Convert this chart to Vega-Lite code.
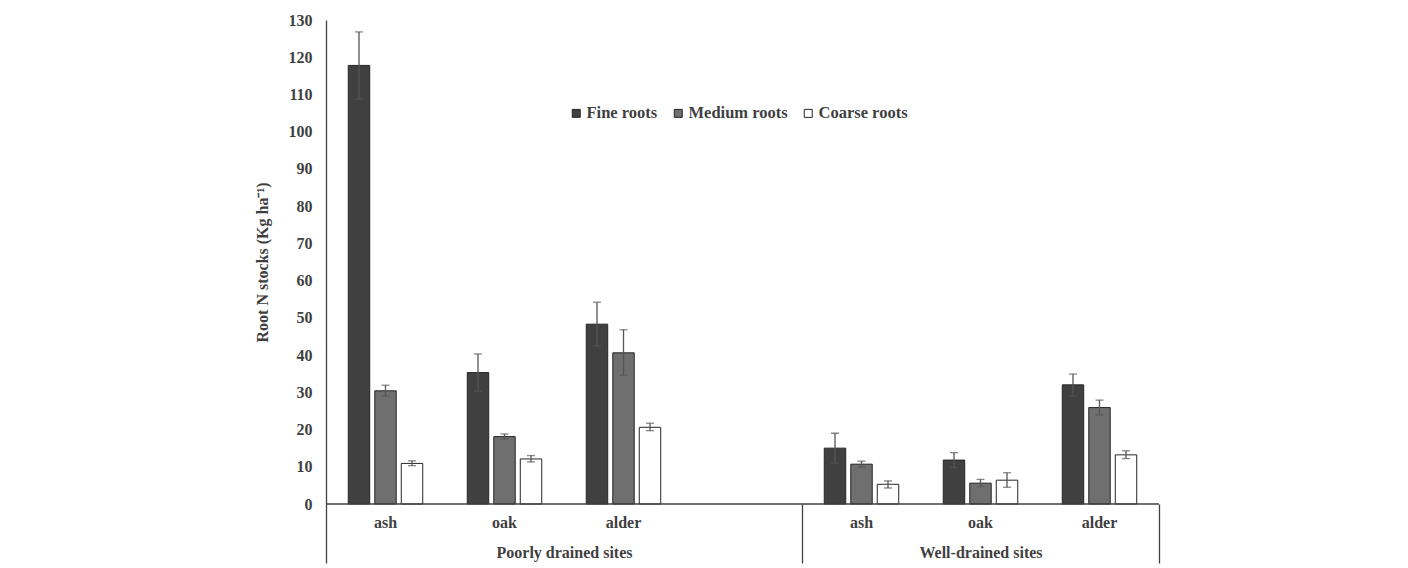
{
  "$schema": "https://vega.github.io/schema/vega-lite/v6.json",
  "width": 833,
  "height": 484,
  "autosize": {"type": "none"},
  "padding": {"left": 326, "top": 20, "right": 249, "bottom": 64},
  "background": "white",
  "config": {
    "view": {"stroke": null},
    "font": "Liberation Serif",
    "axisY": {"ticks": false, "grid": false, "domainColor": "#404040", "domainWidth": 1.3, "labelFontSize": 16, "labelFontWeight": "bold", "labelColor": "#3f3f3f", "labelPadding": 14, "labelFlush": false, "labelOverlap": false, "titleFontSize": 16, "titleFontWeight": "bold", "titleColor": "#3f3f3f", "titlePadding": 18}
  },
  "datasets": {
    "roots": [
      {"site": "Poorly drained sites", "species": "ash", "slot": "P-ash", "type": "Fine roots", "value": 117.8, "lo": 108.8, "hi": 126.8},
      {"site": "Poorly drained sites", "species": "ash", "slot": "P-ash", "type": "Medium roots", "value": 30.4, "lo": 29.0, "hi": 31.9},
      {"site": "Poorly drained sites", "species": "ash", "slot": "P-ash", "type": "Coarse roots", "value": 10.9, "lo": 10.3, "hi": 11.6},
      {"site": "Poorly drained sites", "species": "oak", "slot": "P-oak", "type": "Fine roots", "value": 35.3, "lo": 30.3, "hi": 40.3},
      {"site": "Poorly drained sites", "species": "oak", "slot": "P-oak", "type": "Medium roots", "value": 18.1, "lo": 17.4, "hi": 18.8},
      {"site": "Poorly drained sites", "species": "oak", "slot": "P-oak", "type": "Coarse roots", "value": 12.1, "lo": 11.3, "hi": 13.0},
      {"site": "Poorly drained sites", "species": "alder", "slot": "P-alder", "type": "Fine roots", "value": 48.3, "lo": 42.4, "hi": 54.2},
      {"site": "Poorly drained sites", "species": "alder", "slot": "P-alder", "type": "Medium roots", "value": 40.6, "lo": 34.6, "hi": 46.8},
      {"site": "Poorly drained sites", "species": "alder", "slot": "P-alder", "type": "Coarse roots", "value": 20.6, "lo": 19.7, "hi": 21.7},
      {"site": "Well-drained sites", "species": "ash", "slot": "W-ash", "type": "Fine roots", "value": 15.0, "lo": 11.0, "hi": 19.0},
      {"site": "Well-drained sites", "species": "ash", "slot": "W-ash", "type": "Medium roots", "value": 10.7, "lo": 9.9, "hi": 11.5},
      {"site": "Well-drained sites", "species": "ash", "slot": "W-ash", "type": "Coarse roots", "value": 5.3, "lo": 4.3, "hi": 6.2},
      {"site": "Well-drained sites", "species": "oak", "slot": "W-oak", "type": "Fine roots", "value": 11.8, "lo": 9.8, "hi": 13.8},
      {"site": "Well-drained sites", "species": "oak", "slot": "W-oak", "type": "Medium roots", "value": 5.6, "lo": 4.7, "hi": 6.6},
      {"site": "Well-drained sites", "species": "oak", "slot": "W-oak", "type": "Coarse roots", "value": 6.4, "lo": 4.5, "hi": 8.4},
      {"site": "Well-drained sites", "species": "alder", "slot": "W-alder", "type": "Fine roots", "value": 32.0, "lo": 29.0, "hi": 34.9},
      {"site": "Well-drained sites", "species": "alder", "slot": "W-alder", "type": "Medium roots", "value": 25.9, "lo": 23.9, "hi": 27.9},
      {"site": "Well-drained sites", "species": "alder", "slot": "W-alder", "type": "Coarse roots", "value": 13.2, "lo": 12.2, "hi": 14.3}
    ],
    "baseline": [{"from": 0, "to": 7}]
  },
  "layer": [
    {
      "data": {"name": "roots"},
      "layer": [
        {
          "mark": {"type": "bar", "stroke": "#262626", "strokeWidth": 1},
          "encoding": {
            "x": {
              "field": "slot", "type": "nominal", "sort": null,
              "scale": {"domain": ["P-ash", "P-oak", "P-alder", "P-", "W-ash", "W-oak", "W-alder"], "paddingInner": 0, "paddingOuter": 0},
              "axis": {"title": null, "labelExpr": "split(datum.value, '-')[1]", "ticks": false, "domain": false, "labelPadding": 10, "labelFontSize": 16, "labelFontWeight": "bold", "labelColor": "#3f3f3f", "labelAngle": 0}
            },
            "xOffset": {
              "field": "type", "type": "nominal",
              "scale": {"domain": ["Fine roots", "Medium roots", "Coarse roots"], "paddingInner": 0.19, "paddingOuter": 0.84}
            },
            "y": {
              "field": "value", "type": "quantitative", "title": "Root N stocks (Kg ha⁻¹)",
              "scale": {"domain": [0, 130], "nice": false},
              "axis": {"values": [0, 10, 20, 30, 40, 50, 60, 70, 80, 90, 100, 110, 120, 130], "title": "Root N stocks (Kg ha⁻¹)"}
            },
            "color": {
              "field": "type", "type": "nominal",
              "scale": {"domain": ["Fine roots", "Medium roots", "Coarse roots"], "range": ["#404040", "#6f6f6f", "#ffffff"]},
              "legend": {"orient": "none", "legendX": 242, "legendY": 85, "direction": "horizontal", "title": null, "symbolType": "square", "symbolSize": 64, "symbolStrokeColor": "#262626", "symbolStrokeWidth": 1, "labelFontSize": 16.5, "labelFontWeight": "bold", "labelColor": "#3f3f3f", "labelOffset": 2, "columnPadding": 12}
            }
          }
        },
        {
          "mark": {"type": "rule", "color": "#555555", "strokeWidth": 1.3},
          "encoding": {
            "x": {"field": "slot", "type": "nominal"},
            "xOffset": {"field": "type", "type": "nominal"},
            "y": {"field": "lo", "type": "quantitative", "axis": {"values": [0, 10, 20, 30, 40, 50, 60, 70, 80, 90, 100, 110, 120, 130], "title": "Root N stocks (Kg ha⁻¹)"}},
            "y2": {"field": "hi"}
          }
        },
        {
          "mark": {"type": "tick", "color": "#555555", "size": 8, "thickness": 1.3},
          "encoding": {
            "x": {"field": "slot", "type": "nominal"},
            "xOffset": {"field": "type", "type": "nominal"},
            "y": {"field": "hi", "type": "quantitative", "axis": {"values": [0, 10, 20, 30, 40, 50, 60, 70, 80, 90, 100, 110, 120, 130], "title": "Root N stocks (Kg ha⁻¹)"}}
          }
        },
        {
          "mark": {"type": "tick", "color": "#555555", "size": 8, "thickness": 1.3},
          "encoding": {
            "x": {"field": "slot", "type": "nominal"},
            "xOffset": {"field": "type", "type": "nominal"},
            "y": {"field": "lo", "type": "quantitative", "axis": {"values": [0, 10, 20, 30, 40, 50, 60, 70, 80, 90, 100, 110, 120, 130], "title": "Root N stocks (Kg ha⁻¹)"}}
          }
        }
      ]
    },
    {
      "data": {"name": "baseline"},
      "mark": {"type": "rule", "color": "#404040", "strokeWidth": 1.3},
      "encoding": {
        "x": {
          "field": "from", "type": "quantitative",
          "scale": {"domain": [0, 7], "nice": false, "zero": false},
          "axis": {
            "orient": "bottom", "values": [0, 2, 4, 5.5, 7],
            "labelExpr": "datum.value == 2 ? 'Poorly drained sites' : datum.value == 5.5 ? 'Well-drained sites' : ''",
            "tickSize": 59,
            "tickColor": {"condition": {"test": "datum.value == 2 || datum.value == 5.5", "value": "transparent"}, "value": "#404040"},
            "tickWidth": 1.3, "domain": false, "grid": false, "title": null,
            "labelPadding": -19, "labelFontSize": 16, "labelFontWeight": "bold", "labelColor": "#3f3f3f",
            "labelFlush": false, "labelOverlap": false, "labelBound": false
          }
        },
        "x2": {"field": "to"},
        "y": {"datum": 0, "type": "quantitative", "axis": {"values": [0, 10, 20, 30, 40, 50, 60, 70, 80, 90, 100, 110, 120, 130], "title": "Root N stocks (Kg ha⁻¹)"}}
      }
    }
  ],
  "resolve": {"scale": {"x": "independent"}, "axis": {"x": "independent"}}
}
